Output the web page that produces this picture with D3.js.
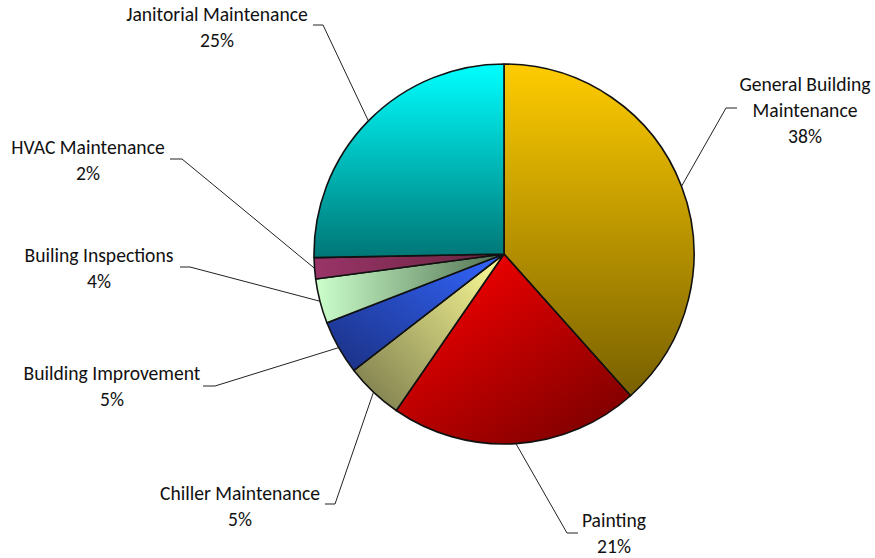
<!DOCTYPE html>
<html><head><meta charset="utf-8">
<script src="https://cdn.jsdelivr.net/npm/d3@7"></script>
<style>
html,body{margin:0;padding:0;background:#fff;}
svg text{font-family:Carlito,Calibri,Lato,sans-serif;fill:#111;}
</style></head>
<body><svg id="chart" width="875" height="558"></svg>
<script>
// ---- data ----
const categories = ["General Building Maintenance","Painting","Chiller Maintenance","Building Improvement","Builing Inspections","HVAC Maintenance","Janitorial Maintenance"];
const labelLines = [["General Building","Maintenance"],["Painting"],["Chiller Maintenance"],["Building Improvement"],["Builing Inspections"],["HVAC Maintenance"],["Janitorial Maintenance"]];
const values = [38.4, 21.2, 4.9, 4.6, 3.8, 1.8, 25.3];

// ---- styles (gradient stops and direction per slice) ----
const gradLight = ["#FFCC00","#FF0000","#FFFF99","#3366FF","#CCFFCC","#9A3468","#00FFFF"];
const gradDark  = ["#786000","#780000","#77774A","#1A2F80","#4F6F4F","#66243F","#007676"];
const gradDir   = [[0,0,0,1],[0.1,0,0.9,1],[1,0,0,1],[1,0,0,1],[0,0,1,0],[0,0,1,0],[0,0,0,1]];

// ---- label layout (text centre x, first baseline y, elbow y, text-side x, elbow x) ----
const labelLayout = [
  {tx:805, ty:91,  ly:108, x0:737, x1:726},
  {tx:614, ty:527, ly:533, x0:578, x1:567},
  {tx:240, ty:500, ly:504, x0:325, x1:335},
  {tx:112, ty:380, ly:386, x0:203, x1:215},
  {tx:99,  ty:262, ly:267, x0:180, x1:190},
  {tx:88,  ty:154, ly:159, x0:170, x1:182},
  {tx:217, ty:21,  ly:25,  x0:313, x1:323}
];

const cx = 504, cy = 254, R = 190;
const svg = d3.select("#chart");
const defs = svg.append("defs");
categories.forEach((c,i)=>{
  const g = defs.append("linearGradient").attr("id","g"+i)
    .attr("x1",gradDir[i][0]).attr("y1",gradDir[i][1]).attr("x2",gradDir[i][2]).attr("y2",gradDir[i][3]);
  g.append("stop").attr("offset","0").attr("stop-color",gradLight[i]);
  g.append("stop").attr("offset","1").attr("stop-color",gradDark[i]);
});

const pie = d3.pie().sort(null).value(d=>d);
const arcs = pie(values);
const arc = d3.arc().innerRadius(0).outerRadius(R);
const total = d3.sum(values);

const gp = svg.append("g").attr("transform",`translate(${cx},${cy})`);
gp.selectAll("path").data(arcs).enter().append("path")
  .attr("d",arc)
  .attr("fill",(d,i)=>`url(#g${i})`)
  .attr("stroke","#111").attr("stroke-width",1.6).attr("stroke-linejoin","round");

// leader lines and labels
arcs.forEach((d,i)=>{
  const a = (d.startAngle+d.endAngle)/2;
  const px = cx + R*Math.sin(a), py = cy - R*Math.cos(a);
  const L = labelLayout[i];
  svg.append("polyline")
    .attr("points",`${L.x0},${L.ly} ${L.x1},${L.ly} ${px},${py}`)
    .attr("fill","none").attr("stroke","#222").attr("stroke-width",1);
  const t = svg.append("text").attr("text-anchor","middle").attr("font-size",19.6);
  const lines = labelLines[i].concat([Math.round(d.data/total*100)+"%"]);
  lines.forEach((s,k)=>{
    t.append("tspan").attr("x",L.tx).attr("y",L.ty+k*26).text(s);
  });
});
</script></body></html>
